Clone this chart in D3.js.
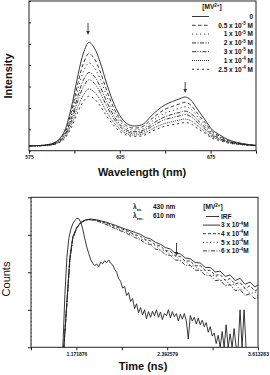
<!DOCTYPE html>
<meta charset="utf-8">
<style>
body{margin:0;background:white}
svg{display:block}
text{font-family:"Liberation Sans",Arial,sans-serif;fill:#111}
.frame{fill:none;stroke:#222;stroke-width:1}
.tick line{stroke:#222}
.curve{fill:none;stroke:#222;stroke-width:0.9}
</style>
<svg width="270" height="375"></svg>
<script src="https://d3js.org/d3.v7.min.js"></script>
<script>
// ---- top panel: emission spectra vs [MV2+] ----
var wavelength = [575,580,585,590,594,598,602,605,608,611,614,618,622,626,630,634,638,642,646,650,654,658,661,664,668,672,676,680,685,690,695,700];
var spec0    = [0.23,0.24,0.28,0.42,0.82,1.91,3.55,4.57,5.07,4.80,4.18,3.08,2.15,1.52,1.21,1.16,1.25,1.60,1.91,2.15,2.30,2.43,2.51,2.38,1.91,1.44,0.97,0.74,0.50,0.38,0.30,0.25];
var spec05e5 = [0.23,0.24,0.27,0.40,0.75,1.72,3.18,4.09,4.54,4.30,3.74,2.77,1.94,1.38,1.10,1.06,1.14,1.45,1.72,1.94,2.07,2.19,2.26,2.14,1.72,1.31,0.89,0.68,0.47,0.36,0.29,0.25];
var spec1e5  = [0.23,0.24,0.27,0.38,0.70,1.57,2.88,3.70,4.10,3.88,3.39,2.51,1.76,1.26,1.01,0.97,1.04,1.32,1.57,1.76,1.88,1.99,2.05,1.95,1.57,1.20,0.82,0.64,0.44,0.35,0.28,0.24];
var spec2e5  = [0.23,0.23,0.26,0.36,0.65,1.42,2.58,3.31,3.66,3.47,3.03,2.25,1.59,1.14,0.92,0.89,0.95,1.20,1.42,1.59,1.70,1.79,1.85,1.75,1.42,1.09,0.75,0.59,0.42,0.33,0.28,0.24];
var spec3e5  = [0.23,0.23,0.26,0.35,0.60,1.30,2.35,3.00,3.32,3.15,2.75,2.05,1.46,1.05,0.85,0.82,0.88,1.10,1.30,1.46,1.55,1.63,1.69,1.60,1.30,1.00,0.70,0.55,0.40,0.32,0.27,0.24];
var spec1e4  = [0.23,0.23,0.25,0.33,0.55,1.15,2.05,2.61,2.89,2.74,2.40,1.79,1.28,0.94,0.76,0.74,0.79,0.98,1.15,1.28,1.36,1.44,1.48,1.41,1.15,0.89,0.63,0.51,0.37,0.31,0.26,0.24];
var spec25e4 = [0.22,0.23,0.25,0.32,0.51,1.03,1.82,2.31,2.55,2.42,2.12,1.59,1.15,0.84,0.70,0.67,0.71,0.88,1.03,1.15,1.22,1.28,1.32,1.26,1.03,0.81,0.58,0.47,0.35,0.30,0.26,0.23];
var topLabels = ["0","0.5 x 10^-5^ M","1 x 10^-5^ M","2 x 10^-5^ M","3 x 10^-5^ M","1 x 10^-4^ M","2.5 x 10^-4^ M"];
var topDashes = [null,"3.5,2.5","1.2,2.8","4,1.5,1,1.5","4,1.5,1,1.5,1,1.5","1,1","2,3"];
var wlTicks = [575,600,625,650,675,700];
var wlLabels = ["575","","625","","675",""];

// ---- bottom panel: decay traces ----
var irfTime = [0.990,1.017,1.044,1.070,1.097,1.124,1.151,1.177,1.204,1.231,1.258,1.284,1.311,1.338,1.365,1.392,1.418,1.445,1.472,1.499,1.525,1.552,1.579,1.606,1.632,1.659,1.686,1.713,1.740,1.766,1.793,1.820,1.847,1.873,1.900,1.927,1.954,1.980,2.007,2.034,2.061,2.088,2.114,2.141,2.168,2.195,2.221,2.248,2.275,2.302,2.328,2.355,2.382,2.409,2.436,2.462,2.489,2.516,2.543,2.569,2.596,2.623,2.650,2.676,2.703,2.730,2.757,2.784,2.810,2.837,2.864,2.891,2.917,2.944,2.971,2.998,3.024,3.051,3.078,3.105,3.132,3.158,3.185,3.212,3.239,3.265,3.292,3.319,3.346,3.372,3.399,3.426,3.453];
var irf = [0,1.4,2.4,2.9,3.15,3.3,3.38,3.44,3.43,3.33,3.15,2.9,2.68,2.5,2.33,2.24,2.18,2.22,2.15,2.27,2.23,2.31,2.26,2.33,2.24,2.2,2.08,2.0,1.83,1.76,1.58,1.62,1.38,1.46,1.22,1.3,1.03,1.16,0.92,1.06,0.86,1.0,0.76,0.95,0.8,0.96,0.84,1.0,0.8,0.94,0.74,0.9,0.84,1.0,0.78,0.95,0.82,0.9,0.7,0.88,0.75,0.9,0.7,0.22,0.85,0.7,0.8,0.62,0.78,0.6,0.72,0.55,0.66,0.4,0.55,0.3,0.38,0.1,0.32,0,0.42,0,0.6,0,0.36,0,0.5,0,0,1.0,0,1.0,0];
var decayTime = [1.003,1.043,1.084,1.124,1.177,1.231,1.298,1.365,1.445,1.565,1.699,1.833,1.967,2.034,2.101,2.168,2.235,2.301,2.368,2.435,2.502,2.569,2.636,2.703,2.770,2.837,2.904,2.971,3.038,3.105,3.172,3.239,3.306,3.372,3.439,3.506,3.573,3.613];
var decay3e4 = [0,1.2,2.4,2.95,3.2,3.33,3.40,3.42,3.40,3.34,3.25,3.15,3.06,3.01,2.93,2.89,2.80,2.75,2.66,2.62,2.51,2.49,2.38,2.36,2.26,2.25,2.13,2.13,2.01,2.03,1.89,1.93,1.78,1.84,1.68,1.74,1.61,1.66];
var decay4e4 = [0,1.15,2.35,2.93,3.19,3.33,3.40,3.41,3.39,3.32,3.22,3.12,3.00,2.96,2.87,2.84,2.73,2.70,2.58,2.56,2.44,2.42,2.30,2.30,2.17,2.18,2.05,2.05,1.92,1.94,1.79,1.83,1.69,1.73,1.57,1.64,1.50,1.55];
var decay5e4 = [0,1.12,2.32,2.91,3.18,3.32,3.39,3.41,3.38,3.30,3.19,3.08,2.98,2.89,2.85,2.75,2.72,2.60,2.58,2.46,2.44,2.32,2.30,2.18,2.17,2.05,2.05,1.91,1.92,1.78,1.80,1.66,1.69,1.54,1.58,1.43,1.47,1.38];
var decay6e4 = [0,1.1,2.3,2.9,3.18,3.32,3.39,3.40,3.37,3.28,3.16,3.05,2.92,2.87,2.77,2.74,2.62,2.59,2.47,2.45,2.33,2.31,2.19,2.18,2.06,2.05,1.92,1.92,1.78,1.79,1.64,1.67,1.51,1.54,1.38,1.43,1.29,1.33];
var botLabels = ["IRF","3 x 10^-4^M","4 x 10^-4^M","5 x 10^-4^M","6 x 10^-4^M"];
var botDashes = [null,null,"3,2","1,2.5","4,1.5,1,1.5"];
var timeTicks = [0.561524,1.171876,1.782228,2.392579,3.002931,3.613283];
var timeLabels = ["","1.171876","","2.392579","","3.613283"];

var svg = d3.select("svg");

function supText(sel, s, fs) {
  var parts = s.split("^");
  parts.forEach(function(p, i) {
    var t = sel.append("tspan").text(p);
    if (i == 1) t.attr("dy", -2.5).style("font-size", (fs * 0.7) + "px");
    if (i == 2) t.attr("dy", 2.5);
  });
}

// ========== TOP ==========
var x1 = d3.scaleLinear().domain([575, 700]).range([29, 256]);
var y1 = d3.scaleLinear().domain([0, 7]).range([150.7, 1]);

var topG = svg.append("g");
topG.append("g").attr("transform", "translate(0,150.7)")
  .call(d3.axisBottom(x1).tickValues(wlTicks).tickSize(3).tickFormat(function(d, i) { return wlLabels[i]; }))
  .call(function(g) { g.select(".domain").remove(); g.selectAll("text").attr("dy", "0.55em").style("font-size", "5px").style("font-weight", "bold"); });
topG.append("g").attr("transform", "translate(29,0)")
  .call(d3.axisRight(y1).ticks(7).tickSize(2).tickFormat(""))
  .call(function(g) { g.select(".domain").remove(); });
topG.append("rect").attr("class", "frame").attr("x", 29).attr("y", 1).attr("width", 227).attr("height", 149.7);

var specs = [spec0, spec05e5, spec1e5, spec2e5, spec3e5, spec1e4, spec25e4];
var line1 = d3.line().x(function(d, i) { return x1(wavelength[i]); }).y(function(d) { return y1(d); }).curve(d3.curveCatmullRom);
topG.selectAll(".spec").data(specs).enter().append("path")
  .attr("class", "curve").attr("d", line1)
  .attr("stroke-dasharray", function(d, i) { return topDashes[i]; });

// arrows at the two bands
function arrow(g, x, ya, yb) {
  g.append("line").attr("x1", x).attr("x2", x).attr("y1", ya).attr("y2", yb - 3).attr("stroke", "#333").attr("stroke-width", 0.9);
  g.append("path").attr("d", "M" + (x - 1.8) + "," + (yb - 4) + "L" + (x + 1.8) + "," + (yb - 4) + "L" + x + "," + yb + "Z").attr("fill", "#333");
}
arrow(topG, x1(607.5), 23, 35);
arrow(topG, x1(661), 82, 93);

// legend
var lgTop = topG.append("g");
lgTop.append("text").attr("x", 212).attr("y", 9).attr("text-anchor", "middle").style("font-size", "6.5px").style("font-weight", "bold")
  .call(function(t) { supText(t, "[MV^2+^]", 6.5); });
topLabels.forEach(function(lab, i) {
  var yy = 16.5 + i * 8.8;
  lgTop.append("line").attr("x1", 192).attr("x2", 209).attr("y1", yy).attr("y2", yy)
    .attr("stroke", "#222").attr("stroke-width", 0.9).attr("stroke-dasharray", topDashes[i]);
  lgTop.append("text").attr("x", 253).attr("y", yy + 2.2).attr("text-anchor", "end")
    .style("font-size", "6.5px").style("font-weight", "bold").call(function(t) { supText(t, lab, 6.5); });
});

topG.append("text").attr("transform", "translate(12,76) rotate(-90)").attr("text-anchor", "middle")
  .style("font-size", "11px").style("font-weight", "bold").text("Intensity");
topG.append("text").attr("x", 142).attr("y", 176).attr("text-anchor", "middle")
  .style("font-size", "11px").style("font-weight", "bold").text("Wavelength (nm)");

// ========== BOTTOM ==========
var x2 = d3.scaleLinear().domain([0.561524, 3.613283]).range([31, 258]);
var y2 = d3.scaleLinear().domain([0, 4]).range([347.3, 197.3]);

var bot = svg.append("g");
bot.append("g").attr("transform", "translate(0,347.3)")
  .call(d3.axisBottom(x2).tickValues(timeTicks).tickSize(3).tickFormat(function(d, i) { return timeLabels[i]; }))
  .call(function(g) { g.select(".domain").remove(); g.selectAll("text").attr("dy", "0.6em").style("font-size", "5px").style("font-weight", "bold"); });
bot.append("g").attr("transform", "translate(31,0)")
  .call(d3.axisLeft(y2).ticks(4).tickSize(3).tickFormat(""))
  .call(function(g) { g.select(".domain").remove(); });
bot.append("g").attr("transform", "translate(31,0)")
  .call(d3.axisRight(y2).ticks(40).tickSize(1).tickFormat(""))
  .call(function(g) { g.select(".domain").remove(); g.selectAll("line").attr("stroke-width", 0.6); });
bot.append("rect").attr("class", "frame").attr("x", 31).attr("y", 197.3).attr("width", 227).attr("height", 150);

svg.append("clipPath").attr("id", "clipB").append("rect").attr("x", 31).attr("y", 197).attr("width", 227).attr("height", 150.3);

var line2 = d3.line().x(function(d) { return x2(d[0]); }).y(function(d) { return y2(d[1]); });
var plotB = bot.append("g").attr("clip-path", "url(#clipB)");
plotB.append("path").attr("class", "curve").attr("stroke-width", 0.8)
  .attr("d", line2(irfTime.map(function(t, i) { return [t, irf[i]]; })));
var decays = [decay3e4, decay4e4, decay5e4, decay6e4];
decays.forEach(function(s, k) {
  plotB.append("path").attr("class", "curve")
    .attr("stroke-dasharray", botDashes[k + 1])
    .attr("d", line2(decayTime.map(function(t, i) { return [t, s[i]]; })));
});

arrow(bot, 176.5, 243, 256);

// lambda labels
var lam = bot.append("g").style("font-size", "6.5px").style("font-weight", "bold");
[["ex.", "430 nm", 209], ["em.", "610 nm", 218]].forEach(function(r) {
  var t = lam.append("text").attr("x", 133).attr("y", r[2]);
  t.append("tspan").text("\u03bb");
  t.append("tspan").attr("dy", 1.5).style("font-size", "4px").text(r[0]);
  lam.append("text").attr("x", 153).attr("y", r[2]).text(r[1]);
});

var lgBot = bot.append("g");
lgBot.append("text").attr("x", 213).attr("y", 209).attr("text-anchor", "middle").style("font-size", "6.5px").style("font-weight", "bold")
  .call(function(t) { supText(t, "[MV^2+^]", 6.5); });
botLabels.forEach(function(lab, i) {
  var yy = 216.5 + i * 8.6;
  lgBot.append("line").attr("x1", i == 0 ? 206 : 203).attr("x2", i == 0 ? 219 : 220).attr("y1", yy).attr("y2", yy)
    .attr("stroke", "#222").attr("stroke-width", 0.9).attr("stroke-dasharray", botDashes[i]);
  lgBot.append("text").attr("x", 221).attr("y", yy + 2.2)
    .style("font-size", "6.5px").style("font-weight", "bold").call(function(t) { supText(t, lab, 6.5); });
});

bot.append("text").attr("transform", "translate(10,279) rotate(-90)").attr("text-anchor", "middle")
  .style("font-size", "11px").text("Counts");
bot.append("text").attr("x", 143).attr("y", 370).attr("text-anchor", "middle")
  .style("font-size", "11px").style("font-weight", "bold").text("Time (ns)");
</script>
